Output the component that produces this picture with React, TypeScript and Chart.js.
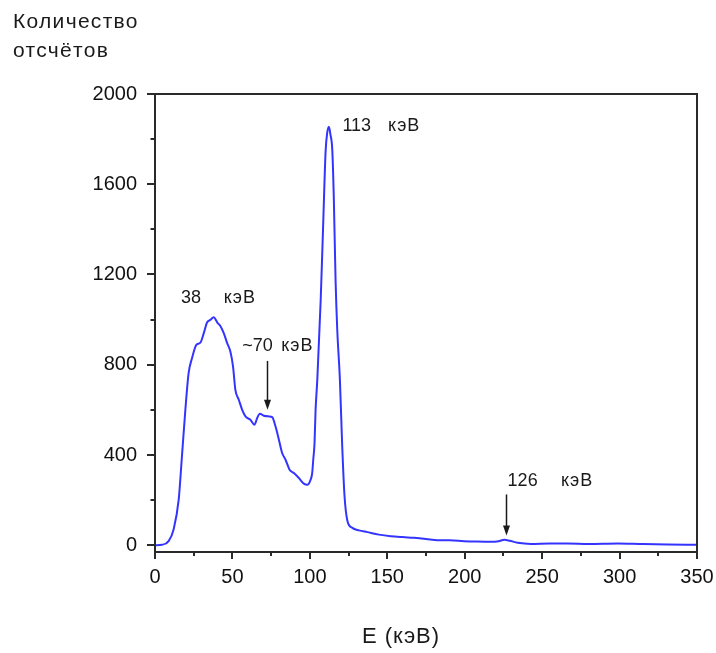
import React, { useEffect, useRef } from 'react';
import { Chart, registerables } from 'chart.js';

Chart.register(...registerables);

// Spectrum (energy in keV, counts)
const energy = [
  0, 4.5, 8.8, 12, 15.3, 17.4, 19.6, 21.7, 23.9, 26.7, 29.3, 31.5, 33.6, 35.8, 37.9,
  40.5, 42.2, 44.4, 46.6, 48.7, 50.4, 51.9, 54.1, 56.3, 58.4, 61.6, 64.2, 66, 67.7,
  70.3, 73.5, 75.7, 77.8, 80, 82.1, 84.3, 86.9, 89.7, 92.9, 96.1, 98.3, 100.5, 101.5,
  102.2, 103, 103.7, 104.8, 107, 108.5, 110.2, 111.3, 112.3, 113.3, 114.5, 115.5,
  116.6, 117.7, 119.4, 120.9, 122.4, 124.2, 127.4, 131.7, 137.1, 144.6, 152.2, 160,
  167.3, 175, 182.4, 190, 199.6, 208, 216.9, 222, 225.5, 229, 234.2, 242.8, 255,
  266.5, 280, 298.8, 315, 331.2, 350,
];
const counts = [
  0, 2, 18, 70, 202, 394, 600, 763, 829, 888, 898, 940, 987, 999, 1011,
  984, 972, 940, 896, 858, 792, 689, 645, 600, 571, 556, 534, 564, 583,
  574, 571, 568, 527, 468, 409, 379, 335, 320, 298, 273, 268, 291, 320,
  380, 450, 600, 733, 1087, 1400, 1750, 1832, 1855, 1820, 1750, 1530,
  1175, 954, 733, 438, 217, 110, 77, 66, 58, 47, 40, 36,
  33, 28, 22, 22, 18, 16, 15, 18, 24, 20, 11, 6, 8,
  8, 6, 8, 5, 3, 2,
];

const xTickValues = [0, 50, 100, 150, 200, 250, 300, 350];
const xMinorTicks = [25, 75, 125, 175, 225, 275, 325];
const yTickValues = [0, 400, 800, 1200, 1600, 2000];
const yMinorTicks = [200, 600, 1000, 1400, 1800];

// Peak annotations
const peakLabels = ['38', '~70', '113', '126'];
const peakLabelE = [16.8, 56.3, 121, 227.7];
const unitLabelE = [44.4, 81.5, 150.5, 262.2];
const peakLabelCount = [1073, 859, 1837, 261];
const unitText = 'кэВ';
const arrowE = [72.4, 226.6];
const arrowFromCount = [817, 225];
const arrowToCount = [600, 43];

const yTitleLines = ['Количество', 'отсчётов'];
const xTitle = 'E (кэВ)';

const FONT = '"Liberation Sans", Arial, sans-serif';

const framePlugin = {
  id: 'framePlugin',
  afterDraw(chart: any) {
    const { ctx, chartArea, scales } = chart;
    const xs = scales.x;
    const ys = scales.y;
    const { left, right, top, bottom } = chartArea;
    ctx.save();
    ctx.strokeStyle = '#2a2a2a';
    ctx.lineWidth = 2;
    ctx.strokeRect(left, top, right - left, bottom - top);
    ctx.beginPath();
    yTickValues.forEach((v) => {
      const y = Math.round(ys.getPixelForValue(v));
      ctx.moveTo(left - 8, y);
      ctx.lineTo(left, y);
    });
    yMinorTicks.forEach((v) => {
      const y = Math.round(ys.getPixelForValue(v));
      ctx.moveTo(left - 4.5, y);
      ctx.lineTo(left, y);
    });
    xTickValues.forEach((v) => {
      const x = Math.round(xs.getPixelForValue(v));
      ctx.moveTo(x, bottom);
      ctx.lineTo(x, bottom + 7);
    });
    xMinorTicks.forEach((v) => {
      const x = Math.round(xs.getPixelForValue(v));
      ctx.moveTo(x, bottom);
      ctx.lineTo(x, bottom + 4);
    });
    ctx.stroke();

    // annotations
    ctx.fillStyle = '#1a1a1a';
    ctx.textAlign = 'left';
    ctx.textBaseline = 'alphabetic';
    ctx.font = `18px ${FONT}`;
    peakLabels.forEach((t, i) => {
      const y = ys.getPixelForValue(peakLabelCount[i]);
      (ctx as any).letterSpacing = '0px';
      ctx.fillText(t, xs.getPixelForValue(peakLabelE[i]), y);
      (ctx as any).letterSpacing = '1px';
      ctx.fillText(unitText, xs.getPixelForValue(unitLabelE[i]), y);
    });
    (ctx as any).letterSpacing = '0px';

    // arrows
    ctx.strokeStyle = '#1a1a1a';
    ctx.lineWidth = 1.5;
    arrowE.forEach((e, i) => {
      const x = Math.round(xs.getPixelForValue(e)) + 0.5;
      const y1 = ys.getPixelForValue(arrowFromCount[i]);
      const y2 = ys.getPixelForValue(arrowToCount[i]);
      ctx.beginPath();
      ctx.moveTo(x, y1);
      ctx.lineTo(x, y2 - 8);
      ctx.stroke();
      ctx.beginPath();
      ctx.moveTo(x - 3.5, y2 - 10);
      ctx.lineTo(x + 3.5, y2 - 10);
      ctx.lineTo(x, y2);
      ctx.closePath();
      ctx.fill();
    });

    // axis titles
    ctx.fillStyle = '#1a1a1a';
    ctx.font = `21px ${FONT}`;
    (ctx as any).letterSpacing = '1.3px';
    ctx.textAlign = 'left';
    ctx.fillText(yTitleLines[0], 13, 28);
    ctx.fillText(yTitleLines[1], 13, 57);
    ctx.font = `22px ${FONT}`;
    (ctx as any).letterSpacing = '1px';
    ctx.textAlign = 'center';
    ctx.fillText(xTitle, 401, 643);
    (ctx as any).letterSpacing = '0px';
    ctx.restore();
  },
};

export default function App() {
  const ref = useRef<HTMLCanvasElement | null>(null);
  useEffect(() => {
    if (!ref.current) return;
    const data = energy.map((e, i) => ({ x: e, y: counts[i] }));
    const chart = new Chart(ref.current, {
      type: 'line',
      data: {
        datasets: [
          {
            data,
            borderColor: '#3434ff',
            borderWidth: 2,
            pointRadius: 0,
            fill: false,
            cubicInterpolationMode: 'monotone',
          },
        ],
      },
      options: {
        animation: false,
        responsive: false,
        devicePixelRatio: 1,
        layout: { padding: { left: 85, right: 19, top: 94, bottom: 61 } },
        plugins: { legend: { display: false }, tooltip: { enabled: false } },
        scales: {
          x: {
            type: 'linear',
            min: 0,
            max: 350,
            grid: { display: false, drawTicks: false },
            border: { display: false },
            afterBuildTicks: (s: any) => {
              s.ticks = xTickValues.map((v) => ({ value: v }));
            },
            afterFit: (s: any) => {
              s.height = 40;
              s.paddingLeft = 0;
              s.paddingRight = 0;
            },
            ticks: {
              padding: 13,
              color: '#111',
              autoSkip: false,
              maxRotation: 0,
              font: { family: FONT, size: 20 },
              callback: (v: any) => String(v),
            },
          },
          y: {
            type: 'linear',
            min: -30,
            max: 2000,
            grid: { display: false, drawTicks: false },
            border: { display: false },
            afterBuildTicks: (s: any) => {
              s.ticks = yTickValues.map((v) => ({ value: v }));
            },
            afterFit: (s: any) => {
              s.width = 70;
              s.paddingTop = 0;
              s.paddingBottom = 0;
            },
            ticks: {
              padding: 18,
              color: '#111',
              autoSkip: false,
              font: { family: FONT, size: 20 },
              callback: (v: any) => String(v),
            },
          },
        },
      },
      plugins: [framePlugin],
    } as any);
    return () => chart.destroy();
  }, []);
  return (
    <div style={{ position: 'absolute', left: 0, top: 0, width: 716, height: 653, background: '#fff' }}>
      <canvas ref={ref} width={716} height={653} />
    </div>
  );
}
